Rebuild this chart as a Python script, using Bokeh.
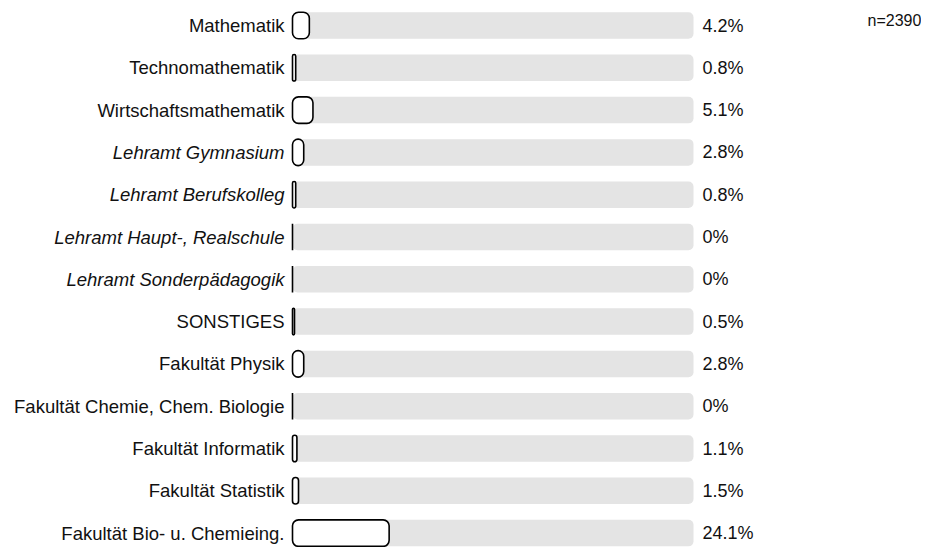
from bokeh.plotting import figure
from bokeh.models import Range1d, ColumnDataSource, Label
from bokeh.core.properties import value
from bokeh.embed import file_html
from bokeh.resources import INLINE

# ---- data ----
categories = [
    "Mathematik",
    "Technomathematik",
    "Wirtschaftsmathematik",
    "Lehramt Gymnasium",
    "Lehramt Berufskolleg",
    "Lehramt Haupt-, Realschule",
    "Lehramt Sonderpädagogik",
    "SONSTIGES",
    "Fakultät Physik",
    "Fakultät Chemie, Chem. Biologie",
    "Fakultät Informatik",
    "Fakultät Statistik",
    "Fakultät Bio- u. Chemieing.",
]
percent = [4.2, 0.8, 5.1, 2.8, 0.8, 0, 0, 0.5, 2.8, 0, 1.1, 1.5, 24.1]
scale_max = 100
n_total = 2390
italic_categories = [
    "Lehramt Gymnasium",
    "Lehramt Berufskolleg",
    "Lehramt Haupt-, Realschule",
    "Lehramt Sonderpädagogik",
]

# ---- layout (pixels) ----
W, H = 921, 547
BAR_LEFT_PX = 292      # canvas x of 0 %
BAR_RIGHT_PX = 693     # canvas x of 100 %
ROW_TOP_PX = 25        # canvas y of first row centre
ROW_STEP_PX = 42.3
BAR_H_PX = 26.5

ppu = (BAR_RIGHT_PX - BAR_LEFT_PX) / scale_max
x_range = Range1d(-BAR_LEFT_PX / ppu, (W - BAR_LEFT_PX) / ppu)
y_range = Range1d((H - ROW_TOP_PX) / ROW_STEP_PX, -ROW_TOP_PX / ROW_STEP_PX)

rows = list(range(len(categories)))
src = ColumnDataSource(dict(
    y=rows,
    pct=percent,
    full=[scale_max] * len(categories),
    val=[f"{v:g}%" for v in percent],
))
norm_idx = [i for i, c in enumerate(categories) if c not in italic_categories]
ital_idx = [i for i, c in enumerate(categories) if c in italic_categories]
src_norm = ColumnDataSource(dict(y=[rows[i] for i in norm_idx], cat=[categories[i] for i in norm_idx]))
src_ital = ColumnDataSource(dict(y=[rows[i] for i in ital_idx], cat=[categories[i] for i in ital_idx]))

p = figure(width=W, height=H, x_range=x_range, y_range=y_range,
           x_axis_type=None, y_axis_type=None,
           toolbar_location=None, output_backend="svg",
           min_border=0, outline_line_color=None)
p.grid.visible = False
p.background_fill_color = "white"
p.border_fill_color = "white"

bh = BAR_H_PX / ROW_STEP_PX
p.hbar(y="y", left=0, right="full", height=bh, source=src,
       fill_color="#e4e4e4", line_color=None, border_radius=5)
p.hbar(y="y", left=0, right="pct", height=bh, source=src,
       fill_color="white", line_color="black", line_width=1.6, border_radius=6)

FONT = value("Liberation Sans")
for s, style in ((src_norm, "normal"), (src_ital, "italic")):
    p.text(x=0, y="y", text="cat", source=s, x_offset=-8,
           text_align="right", text_baseline="middle",
           text_font=FONT, text_font_size="18.5px", text_font_style=style,
           text_color="#111111")

p.text(x=scale_max, y="y", text="val", source=src, x_offset=9,
       text_align="left", text_baseline="middle",
       text_font=FONT, text_font_size="18px", text_color="#111111")

p.add_layout(Label(x=867, y=H - 20, x_units="screen", y_units="screen",
                   text=f"n={n_total}", text_font="Liberation Sans",
                   text_font_size="16px", text_color="#111111",
                   text_baseline="alphabetic", text_align="left"))

open("out.html", "w").write(file_html(p, INLINE))
